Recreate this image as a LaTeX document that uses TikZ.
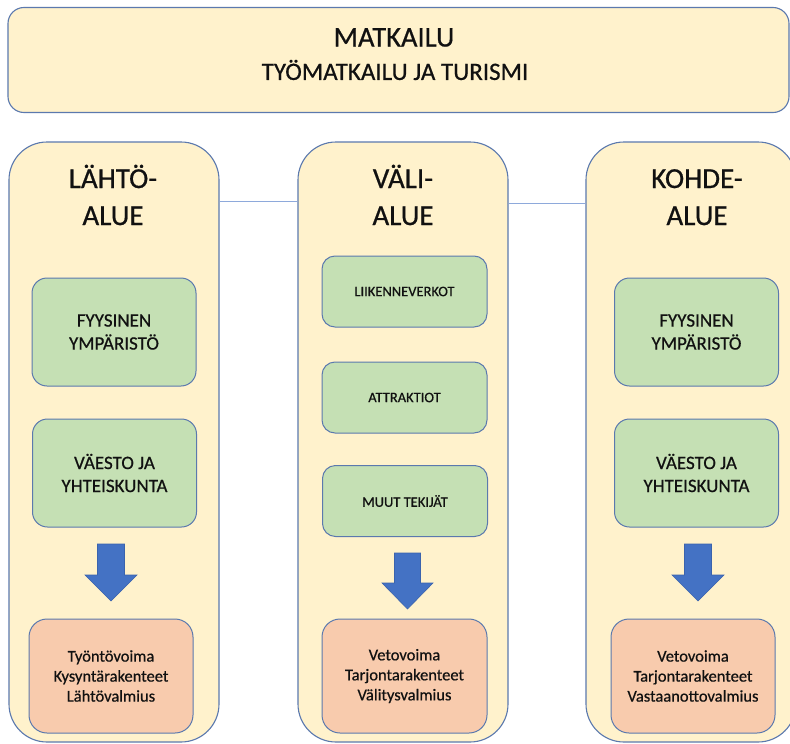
\documentclass[tikz,border=0pt]{standalone}
\usepackage{fontspec}
\setmainfont{Carlito}[RawFeature={embolden=0.6}]
\definecolor{yel}{HTML}{FFF2CC}
\definecolor{grn}{HTML}{C5E0B4}
\definecolor{org}{HTML}{F8CBAD}
\definecolor{bord}{HTML}{5B79AE}
\definecolor{arr}{HTML}{4472C4}
\definecolor{arrb}{HTML}{3A63AD}
\definecolor{conn}{HTML}{8EA9DB}
\definecolor{txt}{HTML}{111111}
\tikzset{
  colbox/.style={draw=bord, fill=yel, rounded corners=38pt, line width=1.1pt, minimum width=210pt, minimum height=600pt, inner sep=0pt},
  topbox/.style={draw=bord, fill=yel, rounded corners=16pt, line width=1.1pt, minimum width=781pt, minimum height=105pt, inner sep=0pt},
  coltitle/.style={text=txt, align=center, font=\fontsize{29}{37}\selectfont, inner sep=0pt},
  greenbox/.style={draw=bord, fill=grn, rounded corners=15pt, line width=1pt, minimum width=164pt, minimum height=108pt, align=center, text=txt, font=\fontsize{19}{23}\selectfont, inner sep=0pt},
  smallgreen/.style={greenbox, minimum width=165pt, minimum height=71pt, rounded corners=13pt, font=\fontsize{14.5}{18}\selectfont},
  orangebox/.style={draw=bord, fill=org, rounded corners=18pt, line width=1pt, minimum width=164pt, minimum height=114pt, align=center, text=txt, font=\fontsize{16.5}{20}\selectfont, inner sep=0pt},
  blockarrow/.style={fill=arr, draw=arrb, line width=0.6pt},
  connline/.style={draw=conn, line width=0.9pt}
}
\begin{document}
\begin{tikzpicture}[x=1pt,y=-1pt]
\useasboundingbox (0,0) rectangle (790,744);
\fill[white] (0,0) rectangle (790,744);

% top box
\node[topbox] (top) at (398.5,60) {};
\node[text=txt, inner sep=0pt, font=\fontsize{28.5}{30}\selectfont] (ttl1) at (394,37.5) {MATKAILU};
\node[text=txt, inner sep=0pt, font=\fontsize{25}{27}\selectfont] (ttl2) at (395,70) {TYÖMATKAILU JA TURISMI};

% columns
\node[colbox] (lahto) at (114,442) {};
\node[colbox] (vali) at (403,442) {};
\node[colbox] (kohde) at (691,442) {};

% connectors
\coordinate (c1) at (0,201);
\coordinate (c2) at (0,203);
\draw[connline] (lahto.east |- c1) -- (vali.west |- c1);
\draw[connline] (vali.east |- c2) -- (kohde.west |- c2);

% titles
\node[coltitle] (lt) at (113,195) {LÄHTÖ-\\ALUE};
\node[coltitle] (vt) at (403,195) {VÄLI-\\ALUE};
\node[coltitle] (kt) at (697,195) {\vphantom{Ä}KOHDE-\\ALUE};

% left column
\node[greenbox] (l1) at (114,332) {FYYSINEN\\YMPÄRISTÖ};
\node[greenbox] (l2) at (114.5,473) {VÄESTO JA\\YHTEISKUNTA};
\node[orangebox] (l3) at (111,676) {Työntövoima\\Kysyntärakenteet\\Lähtövalmius};

% middle column
\node[smallgreen] (v1) at (404.5,291.5) {LIIKENNEVERKOT};
\node[smallgreen] (v2) at (404.5,397.5) {ATTRAKTIOT};
\node[smallgreen] (v3) at (405,501) {MUUT TEKIJÄT};
\node[orangebox, minimum width=165pt] (v4) at (404.5,676) {Vetovoima\\Tarjontarakenteet\\Välitysvalmius};

% right column
\node[greenbox] (k1) at (696.5,332) {FYYSINEN\\YMPÄRISTÖ};
\node[greenbox] (k2) at (696.5,473) {VÄESTO JA\\YHTEISKUNTA};
\node[orangebox] (k3) at (693,676) {Vetovoima\\Tarjontarakenteet\\Vastaanottovalmius};

% block arrows
\draw[blockarrow] (97.5,544) -- (124.5,544) -- (124.5,575) -- (137,575) -- (111,601) -- (85,575) -- (97.5,575) -- cycle;
\draw[blockarrow] (394.5,553) -- (420.5,553) -- (420.5,583) -- (433,583) -- (407.5,609) -- (382,583) -- (394.5,583) -- cycle;
\draw[blockarrow] (684.5,544) -- (711.5,544) -- (711.5,575) -- (724,575) -- (698,601) -- (672,575) -- (684.5,575) -- cycle;
\end{tikzpicture}
\end{document}
